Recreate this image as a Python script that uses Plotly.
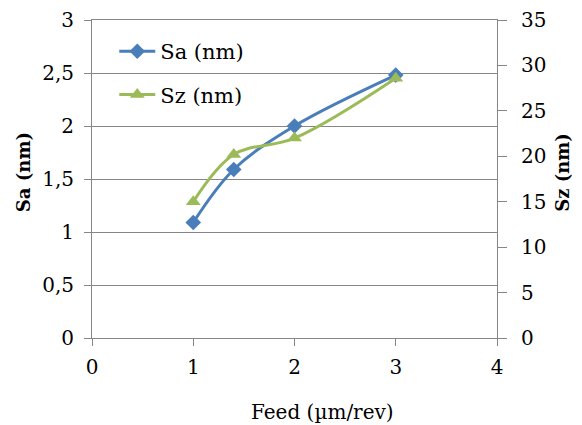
import plotly.graph_objects as go

feed = [1, 1.4, 2, 3]
sa = [1.09, 1.59, 2.0, 2.48]
sz = [15.0, 20.2, 22.0, 28.6]

FONT = "DejaVu Serif"
AX = "#868686"
BLUE = "#4A7EBB"
GREEN = "#9BBB59"

fig = go.Figure()
fig.add_trace(go.Scatter(x=feed, y=sa, name="Sa (nm)", mode="lines+markers", legendgroup="a",
                         line=dict(color=BLUE, width=3, shape="spline", smoothing=1),
                         marker=dict(symbol="diamond", size=12, color=BLUE)))
fig.add_trace(go.Scatter(x=feed, y=sz, name="Sz (nm)", mode="lines+markers", yaxis="y2", legendgroup="b",
                         line=dict(color=GREEN, width=3, shape="spline", smoothing=1),
                         marker=dict(symbol="triangle-up", size=13, color=GREEN)))

tf = dict(family=FONT, size=20, color="black")

fig.update_layout(
    width=574, height=417,
    margin=dict(l=84, r=85, t=12, b=87),
    paper_bgcolor="white", plot_bgcolor="white",
    font=dict(family=FONT, size=20, color="black"),
    showlegend=True,
    legend=dict(x=0.055, y=0.965, xanchor="left", yanchor="top", bgcolor="rgba(0,0,0,0)",
                font=dict(family=FONT, size=21, color="black"), tracegroupgap=13, itemwidth=36),
    xaxis=dict(range=[0, 4], tickvals=[0, 1, 2, 3, 4], showgrid=False, zeroline=False,
               showline=True, mirror=True, linecolor=AX, linewidth=1, ticks="outside", ticklen=7,
               tickcolor=AX, tickfont=tf, automargin=False, ticklabeloverflow="allow",
               ticklabelstandoff=4),
    yaxis=dict(range=[0, 3], tickvals=[0, 0.5, 1, 1.5, 2, 2.5, 3],
               ticktext=["0", "0,5", "1", "1,5", "2", "2,5", "3"],
               showgrid=True, gridcolor=AX, gridwidth=1, zeroline=False,
               showline=True, linecolor=AX, linewidth=1, ticks="outside", ticklen=7,
               tickcolor=AX, tickfont=tf, automargin=False, ticklabeloverflow="allow",
               ticklabelstandoff=6),
    yaxis2=dict(range=[0, 35], tickvals=[0, 5, 10, 15, 20, 25, 30, 35], overlaying="y",
                side="right", showgrid=False, zeroline=False,
                showline=True, linecolor=AX, linewidth=1, ticks="outside", ticklen=9,
                tickcolor=AX, tickfont=tf, automargin=False, ticklabeloverflow="allow",
                ticklabelstandoff=10),
    annotations=[
        dict(text="Feed (µm/rev)", xref="paper", yref="paper", x=0.568, y=-0.233,
             xanchor="center", yanchor="middle", showarrow=False,
             font=dict(family=FONT, size=20, color="black")),
        dict(text="<b>Sa (nm)</b>", xref="paper", yref="paper", x=-0.170, y=0.522,
             xanchor="center", yanchor="middle", showarrow=False, textangle=-90,
             font=dict(family=FONT, size=18, color="black")),
        dict(text="<b>Sz (nm)</b>", xref="paper", yref="paper", x=1.160, y=0.522,
             xanchor="center", yanchor="middle", showarrow=False, textangle=-90,
             font=dict(family=FONT, size=18, color="black")),
    ],
)

fig.write_html("out.html")
